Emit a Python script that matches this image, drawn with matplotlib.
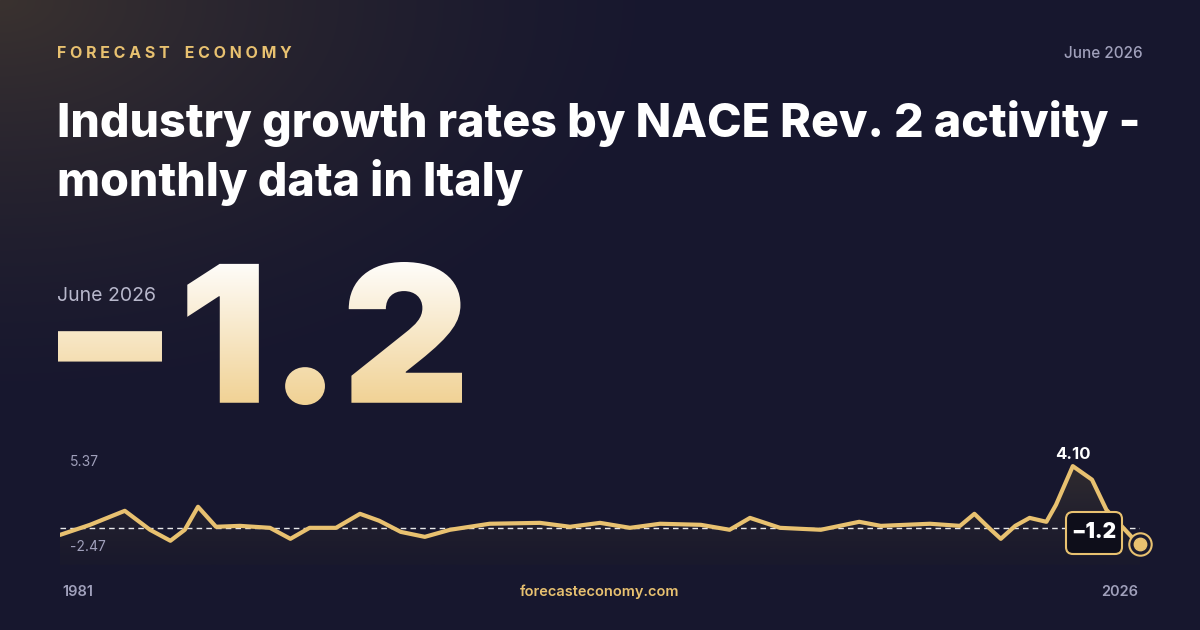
import numpy as np
import matplotlib
matplotlib.use("Agg")
import matplotlib.pyplot as plt
from matplotlib.textpath import TextPath
from matplotlib.patches import PathPatch, FancyBboxPatch
from matplotlib.font_manager import FontProperties
from matplotlib.transforms import Affine2D

years = [1981.0, 1982.25, 1983.7, 1984.75, 1985.6, 1986.2, 1986.75, 1987.5, 1988.5, 1989.75,
         1990.6, 1991.4, 1992.5, 1993.5, 1994.3, 1995.2, 1996.2, 1997.25, 1998.9, 2001.0,
         2002.25, 2003.5, 2004.75, 2006.0, 2007.7, 2008.9, 2009.75, 2011.0, 2012.7, 2014.3,
         2015.2, 2017.25, 2018.5, 2019.1, 2019.75, 2020.2, 2020.8, 2021.4, 2022.1, 2022.5,
         2023.2, 2024.0, 2024.6, 2026.0]
values = [-0.47, 0.2, 1.13, -0.13, -0.86, -0.13, 1.4, 0.07, 0.13, 0.0,
          -0.73, 0.0, 0.0, 0.93, 0.47, -0.27, -0.6, -0.13, 0.27, 0.33,
          0.07, 0.33, 0.0, 0.27, 0.2, -0.13, 0.66, 0.0, -0.13, 0.4,
          0.13, 0.27, 0.13, 0.93, -0.07, -0.73, 0.13, 0.66, 0.4, 1.53,
          4.1, 3.2, 1.2, -1.2]
y_max, y_min = 5.37, -2.47
title = "Industry growth rates by NACE Rev. 2 activity -\nmonthly data in Italy"
headline = "\u22121.2"
period = "June 2026"
brand = "FORECAST ECONOMY"

W, H = 1200, 630
fig = plt.figure(figsize=(12, 6.3), dpi=100)
bg = fig.add_axes([0, 0, 1, 1], zorder=0)
bg.set_xlim(0, W); bg.set_ylim(H, 0); bg.axis("off")

yy, xx = np.mgrid[0:H, 0:W]
base = np.array([0x17, 0x17, 0x2e]) / 255
glow = np.array([0x3a, 0x32, 0x30]) / 255
d = np.sqrt((xx / 700.0) ** 2 + (yy / 420.0) ** 2)
t = np.clip(1 - d, 0, 1)[..., None] ** 1.5
img = base * (1 - t) + glow * t
bg.imshow(img, extent=[0, W, H, 0], zorder=0, aspect="auto")

bg.text(57, 53, " ".join(brand).replace("   ", "    "), color="#e8c170", fontsize=11.5, fontweight="bold",
        family="Inter", va="center", ha="left")
bg.text(1143, 54, period, color="#a0a0bb", fontsize=11, family="Inter", fontweight="medium", va="center", ha="right")
bg.text(57, 153, title, color="white", fontsize=33.5, fontweight="heavy", family="Inter",
        va="center", ha="left", linespacing=1.3)
bg.text(57, 296, period, color="#b8b8cc", fontsize=14, family="Inter", va="center", ha="left")

fp = FontProperties(family="Inter", weight="black")
tp = TextPath((0, 0), headline, size=200, prop=fp)
ext = tp.get_extents()
sx = (462 - 58) / ext.width
tr = Affine2D().translate(-ext.x0, -ext.y0).scale(sx, -143 / ext.height).translate(58, 405) + bg.transData
patch = PathPatch(tp, transform=tr, facecolor="none", edgecolor="none")
bg.add_patch(patch)
grad = np.linspace(0, 1, 200)[:, None, None]
c1 = np.array([1.0, 1.0, 1.0]); c2 = np.array([0xf0, 0xd0, 0x90]) / 255
gimg = np.repeat(c1 * (1 - grad) + c2 * grad, 2, axis=1)
im = bg.imshow(gimg, extent=[50, 470, 410, 255], zorder=3, aspect="auto")
im.set_clip_path(patch)

x0, x1, yt, yb = 60, 1140, 447, 565
ax = fig.add_axes([x0 / W, 1 - yb / H, (x1 - x0) / W, (yb - yt) / H], zorder=1)
ax.set_xlim(1981, 2026); ax.set_ylim(y_min, y_max); ax.axis("off")
ax.patch.set_alpha(0)
xs = np.array(years); vs = np.array(values)
poly = ax.fill_between(xs, vs, y_min, color="none")
gy = np.linspace(0, 1, 100)[:, None, None]
top = np.array([0x3a, 0x34, 0x30, 0.9]); bot = np.array([0x1c, 0x1b, 0x2c, 0.5])
fimg = top * (1 - gy) + bot * gy
fimg[..., :3] /= 255
fim = ax.imshow(fimg, extent=[1981, 2026, y_min, y_max], aspect="auto", zorder=1)
fim.set_clip_path(poly.get_paths()[0], transform=ax.transData)
ax.axhline(0, color="white", lw=1, ls=(0, (4, 3)), alpha=0.9, zorder=2)
ax.plot(xs, vs, color="#e8c170", lw=3, zorder=3, solid_capstyle="round", solid_joinstyle="round")
imax = int(np.argmax(vs))
ax.annotate(f"{vs[imax]:.2f}", (xs[imax], vs[imax]), xytext=(0, 3), textcoords="offset points",
            ha="center", va="bottom", color="white", fontsize=12, fontweight="bold", family="Inter")

ov = fig.add_axes([0, 0, 1, 1], zorder=2)
ov.set_xlim(0, W); ov.set_ylim(H, 0); ov.axis("off"); ov.patch.set_alpha(0)
ov.text(70, 462, f"{y_max:.2f}", color="#a0a0bb", fontsize=10, family="Inter", va="center")
ov.text(70, 547, f"{y_min:.2f}", color="#a0a0bb", fontsize=10, family="Inter", va="center")
bbox = FancyBboxPatch((1066, 512), 56, 42, boxstyle="round,pad=0,rounding_size=7",
                      facecolor="#0e0e1a", edgecolor="#e8c170", lw=1.5, zorder=6)
ov.add_patch(bbox)
ov.text(1094, 532, f"{values[-1]:.1f}".replace("-", "\u2212"), color="white", fontsize=15,
        fontweight="black", family="Inter", ha="center", va="center", zorder=7)
ov.scatter([1140], [544], s=260, facecolor="#1a1a2e", edgecolor="#e8c170", lw=1.5, zorder=8)
ov.scatter([1140], [544], s=80, color="#e8c170", zorder=9)
ov.text(62, 592, str(int(years[0])), color="#a0a0bb", fontsize=10.5, family="Inter", fontweight="semibold", va="center")
ov.text(1138, 592, str(int(years[-1])), color="#a0a0bb", fontsize=10.5, family="Inter", fontweight="semibold", va="center", ha="right")
ov.text(600, 592, "forecasteconomy.com", color="#e8c170", fontsize=10.5, family="Inter", fontweight="semibold", va="center", ha="center")

fig.savefig("out.png", dpi=100)
